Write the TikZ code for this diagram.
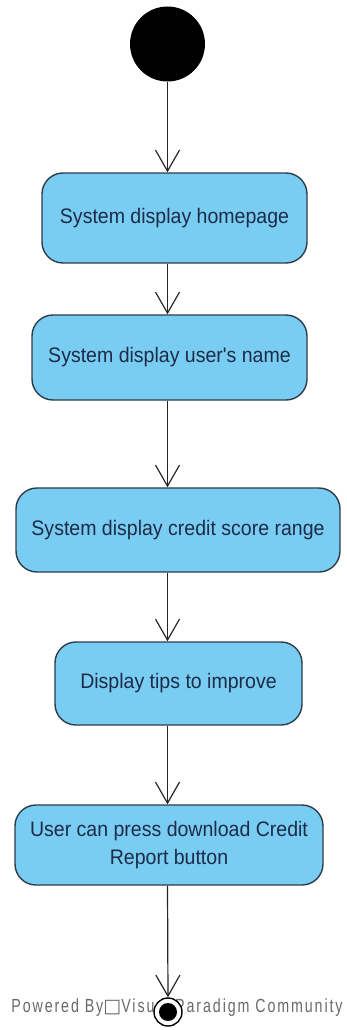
\documentclass[tikz,border=0pt]{standalone}
\usepackage{fontspec}
\setmainfont{Liberation Sans}
\newfontfamily\boxfont[FakeStretch=0.93]{Liberation Sans}
\newfontfamily\markfont[FakeStretch=0.75, LetterSpace=10]{Liberation Sans}
\newfontfamily\symfont{DejaVu Sans}
\usetikzlibrary{arrows.meta}

\definecolor{actfill}{RGB}{122,205,242}
\definecolor{actline}{RGB}{45,60,75}
\definecolor{acttext}{RGB}{28,43,71}
\definecolor{markgray}{RGB}{105,105,105}

\tikzset{
  action/.style={draw=actline, line width=1.4pt, fill=actfill, rounded corners=21pt,
    inner sep=0pt, align=center, text=acttext,
    font=\boxfont\fontsize{21}{28}\selectfont},
  flow/.style={draw=black!85, line width=1.2pt,
    -{Straight Barb[length=21pt, width=24pt, line width=1.2pt]}},
}

\begin{document}
\begin{tikzpicture}[x=1pt, y=-1pt]
  \useasboundingbox (0,0) rectangle (347,1030);

  % initial node
  \node[circle, fill=black, minimum size=75pt, inner sep=0pt] (start) at (167.5,44) {};

  % activities
  \node[action, minimum width=265pt, minimum height=90pt] (b1) at (174.5,218) {System display homepage};
  \node[action, minimum width=275pt, minimum height=85pt] (b2) at (169.5,357.5) {System display user's name};
  \node[action, minimum width=324pt, minimum height=84pt] (b3) at (178,530) {System display credit score range};
  \node[action, minimum width=247pt, minimum height=83pt] (b4) at (178.5,683.5) {Display tips to improve};
  \node[action, minimum width=308pt, minimum height=80pt] (b5) at (169,845) {User can press download Credit\\Report button};

  % watermark line
  \node[text=markgray, font=\markfont\fontsize{19}{20}\selectfont, inner sep=0pt, anchor=base]
    (mark) at (177,1012) {Powered By{\symfont\fontsize{19}{20}\selectfont □}Visual Paradigm Community};

  % final node
  \node[circle, draw=black, line width=1.4pt, fill=white, minimum size=28pt, inner sep=0pt] (stop) at (168,1012) {};
  \node[circle, fill=black, minimum size=18pt, inner sep=0pt] (stopdot) at (stop.center) {};

  % control flows
  \draw[flow] (start.south) -- (b1.north -| start);
  \draw[flow] (b1.south -| start) -- (b2.north -| start);
  \draw[flow] (b2.south -| start) -- (b3.north -| start);
  \draw[flow] (b3.south -| start) -- (b4.north -| start);
  \draw[flow] (b4.south -| start) -- (b5.north -| start);
  \draw[flow] (b5.south -| start) -- (stop.north);
\end{tikzpicture}
\end{document}
